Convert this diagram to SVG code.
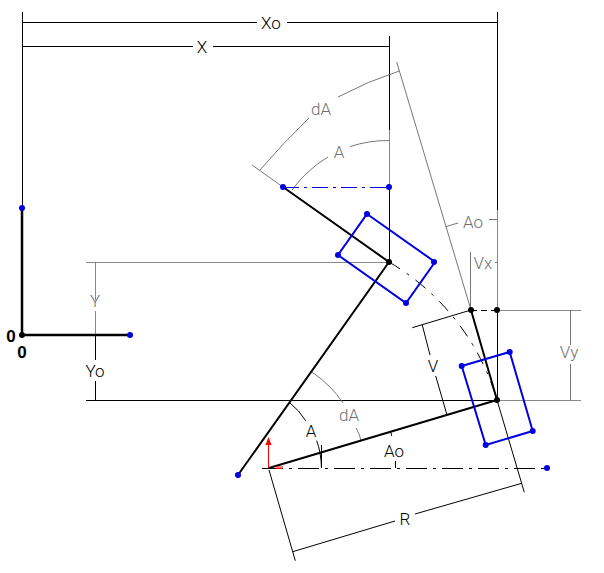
<svg xmlns="http://www.w3.org/2000/svg" width="604" height="573" viewBox="0 0 604 573">
<defs>
<style>
.k{fill:none;stroke:#000;stroke-width:1}
.g{fill:none;stroke:#777;stroke-width:1}
.d{fill:none;stroke:#888;stroke-width:1}
.t{fill:none;stroke:#000;stroke-width:2}
.dd{fill:none;stroke:#000;stroke-width:1;stroke-dasharray:21 6 3 6}
.da{fill:none;stroke:#000;stroke-width:1;stroke-dasharray:13 8 3 8}
.bd{fill:none;stroke:#0000e0;stroke-width:1;stroke-dasharray:16 5 3 5}
.r{fill:none;stroke:#0000e0;stroke-width:2}
.bp{fill:#0000e0}
.kp{fill:#000}
text{font-family:Roboto,"Liberation Sans",Arial,sans-serif;font-size:17px;font-weight:300;text-anchor:middle}
.lk{fill:#000}
.lg{fill:#707070}
.z{fill:#000;font-family:"Liberation Sans",Arial,sans-serif;font-weight:bold;font-size:17px}
</style>
</defs>
<rect width="604" height="573" fill="#fff"/>
<g id="connectors">
<path class="k" d="M22.500 12V208M22 22.500H257M287 22.500H497M22 46.500H193M213 46.500H389M389.500 36V130M389.500 187V262M497.500 12V210M497.500 310V400"/>
<path class="d" d="M389.500 130V187M497.500 210V310M86 262.500H389M497 310.500H581M497 400.500H581M95.500 262V300M95.500 311V335"/>
<path class="k" d="M95.500 335V360M95.500 381V400M86 400.500H497"/>
<path class="g" d="M570.500 310V345M570.500 364V400M470.500 252V310M396.700 62 471 310M445.700 226.700 458 223M489 219.500H497M495 262.500H497"/>
<path class="g" d="M252 165 283 187M260 170Q283 143 309 118M338 97Q368 81 399.300 71"/>
<path class="g" d="M389 140.500A122 122 0 0 0 350 146.600M328 157A122 122 0 0 0 292 190"/>
<path class="g" d="M312 372Q331 385 343 403M356 428Q360 434 361 441"/>
<path class="k" d="M290 403Q299 410 305.700 420.700M316.700 440.700Q321 452 321.500 468M321.500 445V468M395.500 461V468M390.700 431.700 391.700 436"/>
<path class="k" d="M269 470 295.300 560.700M497 400 524.300 492.300M292.700 551.700 395 521M415 514 521.700 483.300M471 310 412.300 327.700M422.300 325 430 355M435.700 376 447 415"/>
<path class="dd" d="M262 468.500H547"/>
<path class="da" d="M389 262A238 238 0 0 1 497 400"/>
<path class="k" stroke-dasharray="6 4" d="M471 310.500H497"/>
<path class="bd" d="M283 187.500H389"/>
<path class="t" d="M389 262 238 475M283 187 389 262M269 468 497 400M471 310 497 400"/>
<path class="t" d="M22 208V335H130" style="stroke-width:2.500"/>
<path stroke="#f00" fill="none" d="M268.500 468V444M276 468.500H282M276 467H283"/>
<path fill="#f00" d="M268.500 437 271.500 445H265.500Z"/>
</g>
<g id="rect-upper">
<path class="r" d="M367 214 435 262 406 303 338 255Z"/>
<circle class="bp" cx="367" cy="214" r="3"/><circle class="bp" cx="434" cy="262" r="3"/><circle class="bp" cx="406" cy="303" r="3"/><circle class="bp" cx="338" cy="255" r="3"/>
</g>
<g id="rect-lower">
<path class="r" d="M461.700 366 509.700 352 532.700 431 485.700 445Z"/>
<circle class="bp" cx="461.700" cy="366" r="3"/><circle class="bp" cx="509.700" cy="352" r="3"/><circle class="bp" cx="532.700" cy="431" r="3"/><circle class="bp" cx="485.700" cy="445" r="3"/>
</g>
<g id="points">
<circle class="bp" cx="22" cy="208" r="3"/><circle class="bp" cx="130" cy="335" r="3"/><circle class="bp" cx="238" cy="475" r="3"/><circle class="bp" cx="283" cy="187" r="3"/><circle class="bp" cx="389" cy="187" r="3"/><circle class="bp" cx="547" cy="468" r="3"/>
<circle class="kp" cx="22" cy="335" r="3"/><circle class="kp" cx="389" cy="262" r="3"/><circle class="kp" cx="471" cy="310" r="3"/><circle class="kp" cx="497" cy="310" r="3"/><circle class="kp" cx="497" cy="400" r="3"/>
</g>
<g id="labels">
<text class="lk" x="271" y="29">Xo</text>
<text class="lk" x="202" y="53">X</text>
<text class="lg" x="321" y="115">dA</text>
<text class="lg" x="339" y="158">A</text>
<text class="lg" x="473" y="228">Ao</text>
<text class="lg" x="483" y="269">Vx</text>
<text class="lg" x="95" y="307">Y</text>
<text class="lk" x="95" y="377">Yo</text>
<text class="lk" x="433" y="372">V</text>
<text class="lg" x="569" y="358">Vy</text>
<text class="lg" x="349" y="421">dA</text>
<text class="lk" x="311" y="437">A</text>
<text class="lk" x="394" y="457">Ao</text>
<text class="lk" x="405" y="525">R</text>
<text class="z" x="11" y="342">0</text>
<text class="z" x="22" y="358">0</text>
</g>
</svg>
